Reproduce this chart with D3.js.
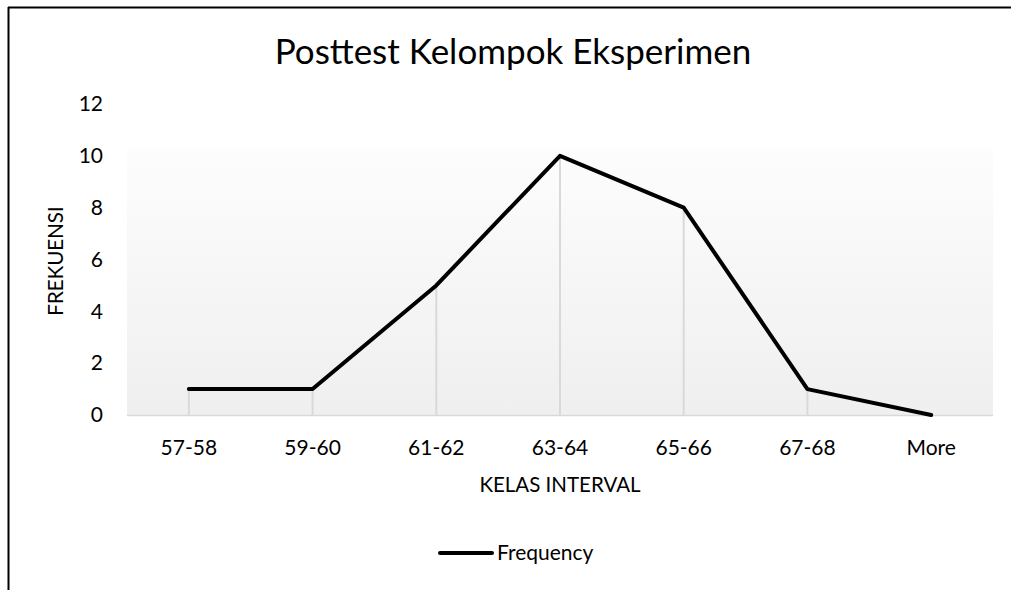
<!DOCTYPE html>
<html><head><meta charset="utf-8">
<script src="https://cdn.jsdelivr.net/npm/d3@7"></script>
<style>
html,body{margin:0;padding:0;background:#fff;}
svg{display:block;font-family:Lato,"Open Sans",sans-serif;}
</style></head>
<body><svg id="c" width="1011" height="590"></svg>
<script>
const categories = ["57-58","59-60","61-62","63-64","65-66","67-68","More"];
const frequency = [1,1,5,10,8,1,0];
const yTicks = [0,2,4,6,8,10,12];
const chartTitle = "Posttest Kelompok Eksperimen";
const xTitle = "KELAS INTERVAL";
const yTitle = "FREKUENSI";
const seriesName = "Frequency";

const svg = d3.select("#c");
const L = 127, R = 993, T = 104, B = 415;

const x = d3.scaleBand().domain(categories).range([L, R]);
const y = d3.scaleLinear().domain([0, 12]).range([B, T]);

// borders
svg.append("line").attr("x1",8).attr("x2",1011).attr("y1",7.5).attr("y2",7.5).attr("stroke","#000").attr("stroke-width",2);
svg.append("line").attr("x1",8.5).attr("x2",8.5).attr("y1",7).attr("y2",590).attr("stroke","#000").attr("stroke-width",2);

// plot area gradient
const defs = svg.append("defs");
const g = defs.append("linearGradient").attr("id","pg").attr("x1",0).attr("y1",0).attr("x2",0).attr("y2",1);
g.append("stop").attr("offset","0%").attr("stop-color","#fdfdfd");
g.append("stop").attr("offset","100%").attr("stop-color","#efefef");
svg.append("rect").attr("x",L).attr("y",147).attr("width",R-L).attr("height",B-147).attr("fill","url(#pg)");

// x axis line
svg.append("line").attr("x1",L).attr("x2",R).attr("y1",B+0.5).attr("y2",B+0.5).attr("stroke","#d9d9d9").attr("stroke-width",1.5);

// drop lines
svg.selectAll(".drop").data(frequency).enter().append("line")
  .attr("x1",(d,i)=>x(categories[i])+x.bandwidth()/2)
  .attr("x2",(d,i)=>x(categories[i])+x.bandwidth()/2)
  .attr("y1",d=>y(d)).attr("y2",B)
  .attr("stroke","#d9d9d9").attr("stroke-width",2);

// line
const line = d3.line().x((d,i)=>x(categories[i])+x.bandwidth()/2).y(d=>y(d));
svg.append("path").datum(frequency).attr("d",line).attr("fill","none")
  .attr("stroke","#000").attr("stroke-width",4).attr("stroke-linejoin","round").attr("stroke-linecap","round");

// y axis labels
const yAxis = d3.axisLeft(y).tickValues(yTicks).tickSize(0).tickPadding(0);
const ya = svg.append("g").attr("transform",`translate(103,0)`).call(yAxis);
ya.select(".domain").remove();
ya.selectAll("text").attr("font-size",21).attr("fill","#000").attr("font-family","Lato");

// x axis labels
const xAxis = d3.axisBottom(x).tickSize(0).tickPadding(0);
const xa = svg.append("g").attr("transform",`translate(0,${B})`).call(xAxis);
xa.select(".domain").remove();
xa.selectAll("text").attr("font-size",21).attr("fill","#000").attr("font-family","Lato").attr("dy",null).attr("y",40);

// titles
svg.append("text").attr("x",513).attr("y",64).attr("text-anchor","middle").attr("font-size",35).attr("fill","#000").text(chartTitle);
svg.append("text").attr("x",560).attr("y",492).attr("text-anchor","middle").attr("font-size",20.5).attr("fill","#000").text(xTitle);
svg.append("text").attr("transform","translate(63,261) rotate(-90)").attr("text-anchor","middle").attr("font-size",20.5).attr("fill","#000").text(yTitle);

// legend
svg.append("line").attr("x1",440).attr("x2",492).attr("y1",553).attr("y2",553).attr("stroke","#000").attr("stroke-width",4).attr("stroke-linecap","round");
svg.append("text").attr("x",497).attr("y",560).attr("font-size",21).attr("fill","#000").text(seriesName);
</script></body></html>
